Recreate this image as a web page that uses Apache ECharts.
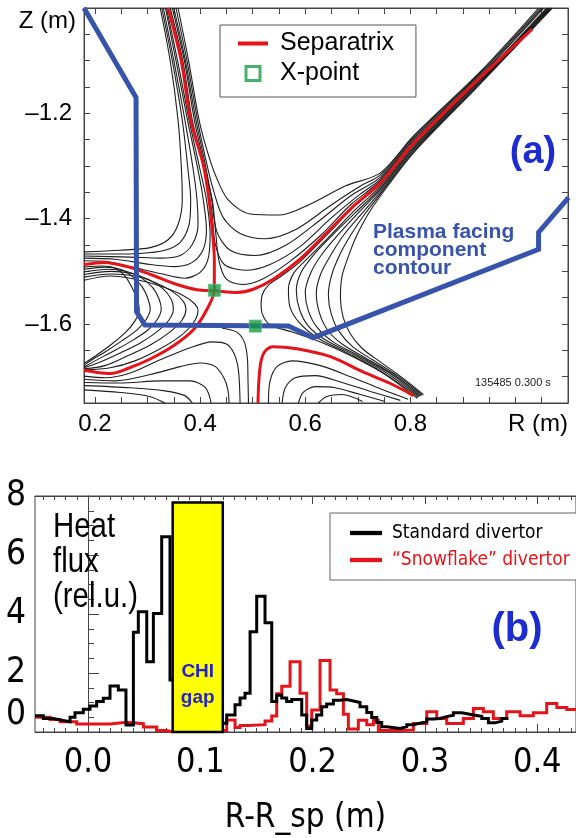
<!DOCTYPE html>
<html>
<head>
<meta charset="utf-8">
<script src="https://cdn.jsdelivr.net/npm/echarts@6/dist/echarts.min.js"></script>
<style>
  html, body { margin: 0; padding: 0; background: #fff; }
  #chart { width: 576px; height: 838px; }
</style>
</head>
<body>
<div id="chart"></div>
<script>
// ================= Panel (a): equilibrium near the divertor, [R (m), Z (m)] =================

// Flux surfaces left of the upper separatrix leg, bending out to the inner wall
const fluxUpperLeft = [
  [[0.324,-1.0],[0.343,-1.100],[0.358,-1.213],[0.364,-1.298],[0.366,-1.364],[0.358,-1.411],[0.339,-1.440],[0.305,-1.455],[0.248,-1.460],[0.179,-1.463]],
  [[0.327,-1.0],[0.347,-1.100],[0.366,-1.213],[0.377,-1.308],[0.382,-1.364],[0.379,-1.411],[0.362,-1.445],[0.333,-1.460],[0.286,-1.466],[0.229,-1.467],[0.179,-1.467]],
  [[0.330,-1.0],[0.350,-1.100],[0.371,-1.213],[0.387,-1.308],[0.394,-1.364],[0.396,-1.411],[0.385,-1.449],[0.362,-1.470],[0.324,-1.475],[0.267,-1.473],[0.179,-1.471]],
  [[0.334,-1.0],[0.354,-1.100],[0.376,-1.213],[0.396,-1.308],[0.406,-1.364],[0.412,-1.421],[0.406,-1.458],[0.385,-1.483],[0.352,-1.491],[0.305,-1.487],[0.238,-1.477],[0.179,-1.475]],
  [[0.336,-1.0],[0.357,-1.100],[0.379,-1.213],[0.400,-1.308],[0.412,-1.364],[0.419,-1.430],[0.415,-1.477],[0.400,-1.502],[0.371,-1.513],[0.324,-1.504],[0.267,-1.491],[0.219,-1.481],[0.179,-1.480]]
];

// Flux surfaces between the upper leg and the outboard leg
const fluxTop = [
  [[0.358,-1.0],[0.378,-1.100],[0.398,-1.213],[0.413,-1.270],[0.429,-1.317],[0.453,-1.364],[0.495,-1.391],[0.552,-1.393],[0.610,-1.372],[0.676,-1.338],[0.743,-1.313],[0.806,-1.243],[0.933,-1.121],[1.044,-1.0]],
  [[0.354,-1.0],[0.375,-1.100],[0.395,-1.213],[0.411,-1.289],[0.425,-1.345],[0.444,-1.398],[0.476,-1.428],[0.524,-1.438],[0.581,-1.421],[0.648,-1.375],[0.705,-1.338],[0.743,-1.317],[0.806,-1.245],[0.933,-1.123],[1.047,-1.0]],
  [[0.350,-1.0],[0.372,-1.100],[0.392,-1.213],[0.410,-1.298],[0.422,-1.364],[0.432,-1.425],[0.457,-1.460],[0.505,-1.470],[0.562,-1.451],[0.629,-1.402],[0.686,-1.357],[0.743,-1.321],[0.806,-1.248],[0.933,-1.125],[1.050,-1.0]],
  [[0.347,-1.0],[0.370,-1.100],[0.389,-1.213],[0.408,-1.300],[0.422,-1.383],[0.429,-1.449],[0.446,-1.487],[0.486,-1.498],[0.533,-1.487],[0.590,-1.453],[0.648,-1.400],[0.705,-1.353],[0.743,-1.325],[0.806,-1.251],[0.933,-1.128],[1.052,-1.0]],
  [[0.343,-1.0],[0.367,-1.100],[0.385,-1.213],[0.407,-1.300],[0.423,-1.364],[0.430,-1.430],[0.436,-1.481],[0.450,-1.515],[0.480,-1.525],[0.518,-1.515],[0.571,-1.481],[0.629,-1.432],[0.686,-1.374],[0.743,-1.328],[0.806,-1.254],[0.933,-1.130],[1.054,-1.0]]
];

// Outboard flux surfaces folding back into the lower outer strike region
const fluxRight = [
  [[1.059,-1.0],[0.933,-1.134],[0.806,-1.258],[0.743,-1.334],[0.691,-1.379],[0.642,-1.430],[0.590,-1.482],[0.556,-1.508],[0.530,-1.526],[0.518,-1.545],[0.516,-1.568],[0.522,-1.589],[0.537,-1.604],[0.575,-1.615],[0.629,-1.634],[0.686,-1.660],[0.752,-1.696],[0.813,-1.741]],
  [[1.061,-1.0],[0.933,-1.135],[0.806,-1.261],[0.743,-1.338],[0.691,-1.387],[0.642,-1.438],[0.604,-1.476],[0.579,-1.502],[0.568,-1.534],[0.571,-1.568],[0.589,-1.598],[0.621,-1.625],[0.676,-1.653],[0.743,-1.689],[0.815,-1.739]],
  [[1.063,-1.0],[0.933,-1.137],[0.806,-1.264],[0.743,-1.342],[0.695,-1.389],[0.651,-1.432],[0.615,-1.470],[0.592,-1.502],[0.583,-1.536],[0.589,-1.572],[0.606,-1.604],[0.638,-1.630],[0.690,-1.657],[0.752,-1.691],[0.817,-1.738]],
  [[1.065,-1.0],[0.933,-1.139],[0.806,-1.267],[0.743,-1.345],[0.701,-1.389],[0.663,-1.430],[0.630,-1.470],[0.610,-1.504],[0.600,-1.540],[0.606,-1.575],[0.623,-1.607],[0.653,-1.634],[0.701,-1.660],[0.762,-1.694],[0.819,-1.737]],
  [[1.067,-1.0],[0.933,-1.141],[0.806,-1.270],[0.743,-1.349],[0.707,-1.391],[0.674,-1.430],[0.648,-1.470],[0.629,-1.506],[0.621,-1.542],[0.627,-1.579],[0.642,-1.611],[0.670,-1.638],[0.714,-1.664],[0.771,-1.698],[0.821,-1.736]],
  [[1.069,-1.0],[0.933,-1.143],[0.806,-1.273],[0.743,-1.353],[0.712,-1.393],[0.686,-1.432],[0.665,-1.470],[0.650,-1.508],[0.644,-1.545],[0.650,-1.583],[0.665,-1.615],[0.690,-1.643],[0.728,-1.668],[0.781,-1.702],[0.823,-1.735]],
  [[1.070,-1.0],[0.933,-1.144],[0.806,-1.275],[0.743,-1.357],[0.718,-1.394],[0.697,-1.434],[0.682,-1.472],[0.670,-1.509],[0.667,-1.549],[0.672,-1.587],[0.686,-1.619],[0.709,-1.647],[0.743,-1.672],[0.790,-1.706],[0.825,-1.734]]
];

// Private-side surfaces between the two inner separatrix legs
const fluxLeft = [
  [[0.179,-1.492],[0.213,-1.490],[0.238,-1.494],[0.257,-1.509],[0.272,-1.534],[0.282,-1.558],[0.284,-1.575],[0.276,-1.594],[0.259,-1.615],[0.232,-1.638],[0.206,-1.657],[0.179,-1.675]],
  [[0.179,-1.496],[0.219,-1.492],[0.248,-1.496],[0.270,-1.509],[0.290,-1.530],[0.301,-1.553],[0.305,-1.572],[0.297,-1.592],[0.280,-1.611],[0.251,-1.632],[0.219,-1.653],[0.194,-1.668],[0.179,-1.679]],
  [[0.179,-1.501],[0.225,-1.496],[0.259,-1.500],[0.286,-1.511],[0.309,-1.530],[0.322,-1.553],[0.326,-1.572],[0.318,-1.592],[0.301,-1.611],[0.270,-1.632],[0.232,-1.653],[0.200,-1.670],[0.179,-1.682]],
  [[0.179,-1.506],[0.229,-1.500],[0.270,-1.504],[0.301,-1.515],[0.328,-1.532],[0.345,-1.553],[0.349,-1.572],[0.341,-1.592],[0.320,-1.613],[0.286,-1.636],[0.248,-1.655],[0.210,-1.672],[0.179,-1.683]],
  [[0.179,-1.511],[0.229,-1.505],[0.276,-1.509],[0.314,-1.521],[0.347,-1.538],[0.368,-1.557],[0.373,-1.572],[0.366,-1.592],[0.343,-1.615],[0.305,-1.640],[0.263,-1.660],[0.219,-1.679],[0.179,-1.685]],
  [[0.179,-1.517],[0.229,-1.509],[0.276,-1.515],[0.324,-1.528],[0.366,-1.545],[0.390,-1.562],[0.396,-1.575],[0.387,-1.598],[0.362,-1.623],[0.324,-1.647],[0.276,-1.670],[0.229,-1.683],[0.179,-1.687]]
];

// Surfaces below the lower inner leg, dropping onto the divertor floor
const fluxLower = [
  [[0.179,-1.699],[0.219,-1.702],[0.267,-1.693],[0.324,-1.668],[0.381,-1.645],[0.423,-1.634],[0.450,-1.638],[0.465,-1.657],[0.473,-1.689],[0.476,-1.75]],
  [[0.179,-1.705],[0.238,-1.708],[0.305,-1.696],[0.362,-1.681],[0.400,-1.674],[0.429,-1.681],[0.446,-1.704],[0.453,-1.726],[0.455,-1.75]],
  [[0.179,-1.711],[0.248,-1.712],[0.324,-1.708],[0.381,-1.708],[0.410,-1.721],[0.421,-1.75]],
  [[0.179,-1.717],[0.267,-1.721],[0.333,-1.727],[0.371,-1.736],[0.385,-1.75]],
  [[0.179,-1.725],[0.248,-1.730],[0.305,-1.738],[0.333,-1.75]],
  [[0.442,-1.608],[0.469,-1.615],[0.484,-1.634],[0.490,-1.666],[0.491,-1.704],[0.492,-1.75]]
];

// Surfaces under the outer strike leg
const fluxBottomRight = [
  [[0.530,-1.75],[0.533,-1.708],[0.547,-1.680],[0.575,-1.670],[0.629,-1.679],[0.686,-1.700],[0.743,-1.723],[0.796,-1.743]],
  [[0.556,-1.75],[0.562,-1.721],[0.581,-1.702],[0.619,-1.698],[0.667,-1.710],[0.724,-1.728],[0.781,-1.745]],
  [[0.587,-1.75],[0.596,-1.730],[0.619,-1.719],[0.657,-1.721],[0.705,-1.734],[0.752,-1.747]],
  [[0.625,-1.75],[0.640,-1.738],[0.670,-1.734],[0.709,-1.747]]
];

// Separatrix branches
const sepUpperToInner = [[0.339,-1.0],[0.364,-1.100],[0.382,-1.213],[0.406,-1.298],[0.417,-1.364],[0.423,-1.421],[0.427,-1.477],[0.427,-1.536],[0.413,-1.572],[0.389,-1.609],[0.350,-1.641],[0.306,-1.666],[0.261,-1.685],[0.230,-1.694],[0.204,-1.692],[0.179,-1.688]];
const sepInnerToOuter = [[0.179,-1.487],[0.217,-1.483],[0.261,-1.491],[0.306,-1.506],[0.356,-1.525],[0.394,-1.535],[0.427,-1.537],[0.470,-1.540],[0.501,-1.534],[0.539,-1.515],[0.590,-1.477],[0.641,-1.427],[0.691,-1.377],[0.743,-1.332],[0.806,-1.257],[0.933,-1.132],[1.032,-1.040]];
const sepOuterStrike = [[0.510,-1.75],[0.512,-1.704],[0.516,-1.670],[0.524,-1.651],[0.539,-1.643],[0.584,-1.647],[0.648,-1.662],[0.710,-1.691],[0.762,-1.713],[0.806,-1.736]];

const xPoints = [[0.427,-1.536],[0.505,-1.604]];

// Plasma facing component contour
const pfcContour = [[0.179,-1.0],[0.278,-1.170],[0.279,-1.577],[0.295,-1.602],[0.568,-1.604],[0.615,-1.626],[1.044,-1.458],[1.044,-1.426],[1.101,-1.36]];

const rLabels = [0.2, 0.4, 0.6, 0.8];
const zLabels = [-1.6, -1.4, -1.2];

// ================= Panel (b): divertor heat flux profiles, [R-R_sp (m), rel. units] =================
const standardLeft = [[-0.0472,0.55],[-0.0398,0.46],[-0.0309,0.40],[-0.0234,0.35],[-0.016,0.50],[-0.0116,0.65],[-0.0042,0.77],[0.0018,0.88],[0.0077,1.03],[0.0136,1.14],[0.0196,1.56],[0.027,1.42],[0.0338,0.24],[0.0404,3.38],[0.0448,4.08],[0.0523,2.38],[0.0582,4.02],[0.0656,6.62],[0.073,1.76],[0.0754,1.76]];
const standardRight = [[0.12,0.30],[0.1235,0.58],[0.1309,0.92],[0.1354,1.15],[0.1398,1.31],[0.1443,3.40],[0.1502,4.60],[0.1576,3.70],[0.1636,1.03],[0.168,1.25],[0.1725,1.15],[0.1769,1.03],[0.1814,1.10],[0.1903,0.58],[0.1947,0.12],[0.1992,0.41],[0.2036,0.58],[0.2081,0.86],[0.2125,0.95],[0.2185,1.08],[0.2244,1.10],[0.2303,1.05],[0.2363,1.00],[0.2422,0.86],[0.2482,0.66],[0.2526,0.49],[0.2571,0.32],[0.2615,0.18],[0.266,0.12],[0.2778,0.18],[0.2838,0.25],[0.2897,0.30],[0.2956,0.35],[0.3016,0.44],[0.3075,0.46],[0.3134,0.52],[0.3194,0.57],[0.3253,0.65],[0.3328,0.61],[0.3387,0.57],[0.3446,0.53],[0.3506,0.46],[0.3565,0.31],[0.3624,0.37],[0.3684,0.46],[0.3743,0.46]];
const snowflakeLeft = [[-0.0472,0.50],[-0.0338,0.42],[-0.0249,0.35],[-0.0101,0.27],[0.0196,0.33],[0.0344,0.28],[0.0493,0.17],[0.0612,0.05],[0.0701,0.0],[0.0754,0.0]];
const snowflakeRight = [[0.12,0.05],[0.1235,0.41],[0.1309,0.15],[0.1354,0.22],[0.1428,0.25],[0.1576,0.37],[0.1636,0.54],[0.168,1.30],[0.1725,1.55],[0.1799,2.38],[0.1888,1.31],[0.1947,0.20],[0.1992,0.75],[0.2066,2.42],[0.2155,1.42],[0.2214,1.30],[0.2274,0.60],[0.2318,0.10],[0.2407,0.40],[0.2482,0.25],[0.2541,0.40],[0.2585,0.05],[0.2778,0.07],[0.2897,0.29],[0.3016,0.69],[0.3105,0.46],[0.3194,0.29],[0.3342,0.46],[0.3431,0.80],[0.352,0.69],[0.3609,0.46],[0.3728,0.69],[0.3847,0.55],[0.3965,0.65],[0.4084,0.97],[0.4174,0.83],[0.4263,0.76],[0.4345,0.76]];

// CHI gap: [start, end, top]
const chiGap = [[0.0754, 0.12, 7.78]];
const chiGapLabel = 'CHI\ngap';

const dRLabels = [0.0, 0.1, 0.2, 0.3, 0.4];

// ---------------------------------------------------------------------------------
const FONT = "'Liberation Sans', Arial, Helvetica, sans-serif";
const NARROW = "'Liberation Sans Narrow', 'Arial Narrow', 'DejaVu Sans Condensed', 'Liberation Sans', sans-serif";
const FRAME = '#444';
const RED = '#e5141b';
const BLUE_LINE = '#3853aa';
const BLUE_TEXT = '#1c2ccf';
const GREEN = '#1c9b47';
const LINE_ICON = 'path://M0 0H30V4H0Z';

function ticks(from, to, step) {
  const n = Math.round((to - from) / step);
  const out = [];
  for (let i = 0; i <= n; i++) out.push(+(from + i * step).toFixed(4));
  return out;
}

const R_MIN = 0.179, R_MAX = 1.1, Z_MIN = -1.75, Z_MAX = -1.0;
const D_MIN = -0.0472, D_MAX = 0.4345;

const rTicks = ticks(0.2, 1.05, 0.05);
const zTicks = ticks(-1.7, -1.05, 0.05);
const dMinor = ticks(-0.04, 0.43, 0.01);

function frameTicks(values, len) {
  return { show: true, inside: true, length: len, customValues: values, lineStyle: { color: FRAME, width: 1 } };
}

const chart = echarts.init(document.getElementById('chart'), null, { renderer: 'canvas' });

const fluxSeries = [fluxUpperLeft, fluxTop, fluxRight, fluxLeft, fluxLower, fluxBottomRight]
  .flat(1)
  .map(line => ({
    type: 'line', name: 'flux', xAxisIndex: 0, yAxisIndex: 0, data: line,
    smooth: 0.3, symbol: 'none', silent: true, z: 2,
    lineStyle: { color: '#1e1e1e', width: 1.1 }
  }));

const sepSeries = [sepUpperToInner, sepInnerToOuter, sepOuterStrike].map(line => ({
  type: 'line', name: 'Separatrix', xAxisIndex: 0, yAxisIndex: 0, data: line,
  smooth: 0.3, symbol: 'none', silent: true, z: 3,
  lineStyle: { color: RED, width: 3 }, itemStyle: { color: RED }
}));

function stepSeries(name, data, color, z) {
  return {
    type: 'line', name, xAxisIndex: 2, yAxisIndex: 2, data, step: 'end',
    symbol: 'none', silent: true, z,
    lineStyle: { color, width: 3, join: 'miter' }, itemStyle: { color }
  };
}

const option = {
  animation: false,
  backgroundColor: '#fff',
  grid: [
    { left: 84, top: 8, width: 484, height: 395, show: true, borderColor: FRAME, borderWidth: 1, backgroundColor: 'transparent' },
    { left: 35, top: 496, width: 541, height: 236, show: true, borderColor: FRAME, borderWidth: 1, backgroundColor: 'transparent' }
  ],
  xAxis: [
    { gridIndex: 0, type: 'value', min: R_MIN, max: R_MAX, position: 'bottom',
      axisLine: { show: true, lineStyle: { color: FRAME } }, splitLine: { show: false },
      axisTick: frameTicks(rTicks, 6),
      axisLabel: { customValues: rLabels, formatter: v => v.toFixed(1), color: '#000', fontSize: 24, fontFamily: FONT, margin: 9 } },
    { gridIndex: 0, type: 'value', min: R_MIN, max: R_MAX, position: 'top',
      axisLine: { show: true, lineStyle: { color: FRAME } }, splitLine: { show: false },
      axisTick: frameTicks(rTicks, 6), axisLabel: { show: false } },
    { gridIndex: 1, type: 'value', min: D_MIN, max: D_MAX, position: 'bottom',
      axisLine: { show: true, lineStyle: { color: FRAME } }, splitLine: { show: false },
      axisTick: frameTicks(dMinor, 4),
      axisLabel: { customValues: dRLabels, formatter: v => v.toFixed(1), color: '#000', fontSize: 34, fontFamily: NARROW, margin: 14 },
      name: 'R-R_sp (m)', nameLocation: 'middle', nameGap: 70,
      nameTextStyle: { color: '#000', fontSize: 33, fontFamily: NARROW } },
    { gridIndex: 1, type: 'value', min: D_MIN, max: D_MAX, position: 'bottom',
      axisLine: { show: false }, splitLine: { show: false },
      axisTick: frameTicks(dRLabels, 8), axisLabel: { show: false } },
    { gridIndex: 1, type: 'value', min: D_MIN, max: D_MAX, position: 'top',
      axisLine: { show: true, lineStyle: { color: FRAME } }, splitLine: { show: false },
      axisTick: frameTicks(dMinor, 4), axisLabel: { show: false } },
    { gridIndex: 1, type: 'value', min: D_MIN, max: D_MAX, position: 'top',
      axisLine: { show: false }, splitLine: { show: false },
      axisTick: frameTicks(dRLabels, 8), axisLabel: { show: false } }
  ],
  yAxis: [
    { gridIndex: 0, type: 'value', min: Z_MIN, max: Z_MAX, position: 'left',
      axisLine: { show: true, lineStyle: { color: FRAME } }, splitLine: { show: false },
      axisTick: frameTicks(zTicks, 6),
      axisLabel: { customValues: zLabels, formatter: v => '\u2013' + Math.abs(v).toFixed(1), color: '#000', fontSize: 24, fontFamily: FONT, margin: 12 } },
    { gridIndex: 0, type: 'value', min: Z_MIN, max: Z_MAX, position: 'right',
      axisLine: { show: true, lineStyle: { color: FRAME } }, splitLine: { show: false },
      axisTick: frameTicks(zTicks, 6), axisLabel: { show: false } },
    { gridIndex: 1, type: 'value', min: 0, max: 8, interval: 2, position: 'left',
      axisLine: { show: true, lineStyle: { color: FRAME } }, splitLine: { show: false },
      axisTick: { show: true, inside: true, length: 11, lineStyle: { color: FRAME } },
      minorTick: { show: true, splitNumber: 4, length: 6, lineStyle: { color: FRAME } },
      axisLabel: { color: '#000', fontSize: 35, fontFamily: NARROW, margin: 9, showMinLabel: true, showMaxLabel: true,
        verticalAlignMinLabel: 'bottom' } }
  ],
  legend: [
    { orient: 'vertical', left: 220, top: 25, padding: [6, 22, 11, 18], itemGap: 5,
      itemWidth: 30, itemHeight: 14, backgroundColor: '#fff', borderColor: '#555', borderWidth: 1,
      selectedMode: false,
      textStyle: { color: '#000', fontSize: 25, fontFamily: FONT, lineHeight: 24, padding: [0, 0, 0, 7] },
      data: [
        { name: 'Separatrix', icon: LINE_ICON, itemStyle: { color: RED } },
        { name: 'X-point', icon: 'path://M0 0H10V10H0Z',
          itemStyle: { color: '#fff', borderColor: GREEN, borderWidth: 3 } }
      ] },
    { orient: 'vertical', left: 330, top: 513, padding: [8, 8, 8, 20], itemGap: 3,
      itemWidth: 32, itemHeight: 14, backgroundColor: '#fff', borderColor: '#666', borderWidth: 1,
      selectedMode: false,
      textStyle: { fontSize: 19, fontFamily: NARROW, lineHeight: 24, padding: [0, 0, 0, 5] },
      data: [
        { name: 'Standard divertor', icon: LINE_ICON, itemStyle: { color: '#000' }, textStyle: { color: '#000' } },
        { name: '\u201cSnowflake\u201d divertor', icon: LINE_ICON, itemStyle: { color: RED }, textStyle: { color: RED } }
      ] }
  ],
  graphic: [
    { type: 'text', x: 76, y: 21, style: { text: 'Z (m)', font: '24px ' + FONT, fill: '#000', align: 'right', textAlign: 'right', verticalAlign: 'middle', textVerticalAlign: 'middle' } },
    { type: 'text', x: 508, y: 424, style: { text: 'R (m)', font: '24px ' + FONT, fill: '#000', align: 'left', textAlign: 'left', verticalAlign: 'middle', textVerticalAlign: 'middle' } },
    { type: 'text', x: 533, y: 153, z: 20, style: { text: '(a)', font: 'bold 38px ' + FONT, fill: BLUE_TEXT, align: 'center', textAlign: 'center', verticalAlign: 'middle', textVerticalAlign: 'middle' } },
    { type: 'text', x: 373, y: 223, z: 20, style: { text: 'Plasma facing\ncomponent\ncontour', font: 'bold 21px ' + FONT, lineHeight: 18, fill: BLUE_LINE, align: 'left', textAlign: 'left', verticalAlign: 'top', textVerticalAlign: 'top' } },
    { type: 'text', x: 475, y: 383, z: 20, style: { text: '135485 0.300 s', font: '11px ' + FONT, fill: '#222', align: 'left', textAlign: 'left', verticalAlign: 'middle', textVerticalAlign: 'middle' } },
    { type: 'text', x: 53, y: 510, z: 20, scaleX: 0.84, style: { text: 'Heat\nflux\n(rel.u.)', font: '35px ' + FONT, lineHeight: 35, fill: '#000', align: 'left', textAlign: 'left', verticalAlign: 'top', textVerticalAlign: 'top' } },
    { type: 'text', x: 517, y: 630, z: 20, style: { text: '(b)', font: 'bold 40px ' + FONT, fill: BLUE_TEXT, align: 'center', textAlign: 'center', verticalAlign: 'middle', textVerticalAlign: 'middle' } }
  ],
  series: [
    ...fluxSeries,
    ...sepSeries,
    { type: 'line', name: 'PFC', xAxisIndex: 0, yAxisIndex: 0, data: pfcContour, symbol: 'none', silent: true, z: 4,
      lineStyle: { color: BLUE_LINE, width: 5, join: 'miter' } },
    { type: 'scatter', name: 'X-point', xAxisIndex: 0, yAxisIndex: 0, data: xPoints, symbol: 'rect', symbolSize: 12, z: 5,
      itemStyle: { color: GREEN, borderColor: '#4fbf6f', borderWidth: 1 } },

    stepSeries('\u201cSnowflake\u201d divertor', snowflakeLeft, RED, 3),
    stepSeries('\u201cSnowflake\u201d divertor', snowflakeRight, RED, 3),
    stepSeries('Standard divertor', standardLeft, '#000', 4),
    stepSeries('Standard divertor', standardRight, '#000', 4),
    { type: 'custom', name: 'CHI gap', xAxisIndex: 2, yAxisIndex: 2, data: chiGap, z: 10, silent: true,
      renderItem: (params, api) => {
        const p0 = api.coord([api.value(0), api.value(2)]);
        const p1 = api.coord([api.value(1), 0]);
        const mid = api.coord([(api.value(0) + api.value(1)) / 2, 1.6]);
        return { type: 'group', children: [
          { type: 'rect', shape: { x: p0[0], y: p0[1], width: p1[0] - p0[0], height: p1[1] - p0[1] },
            style: { fill: '#ffff00', stroke: '#000', lineWidth: 2.5 } },
          { type: 'text', style: { text: chiGapLabel, x: mid[0], y: mid[1], font: 'bold 19px ' + FONT, lineHeight: 26,
            fill: '#2222cc', align: 'center', verticalAlign: 'middle' } }
        ] };
      } }
  ]
};

chart.setOption(option);
</script>
</body>
</html>
